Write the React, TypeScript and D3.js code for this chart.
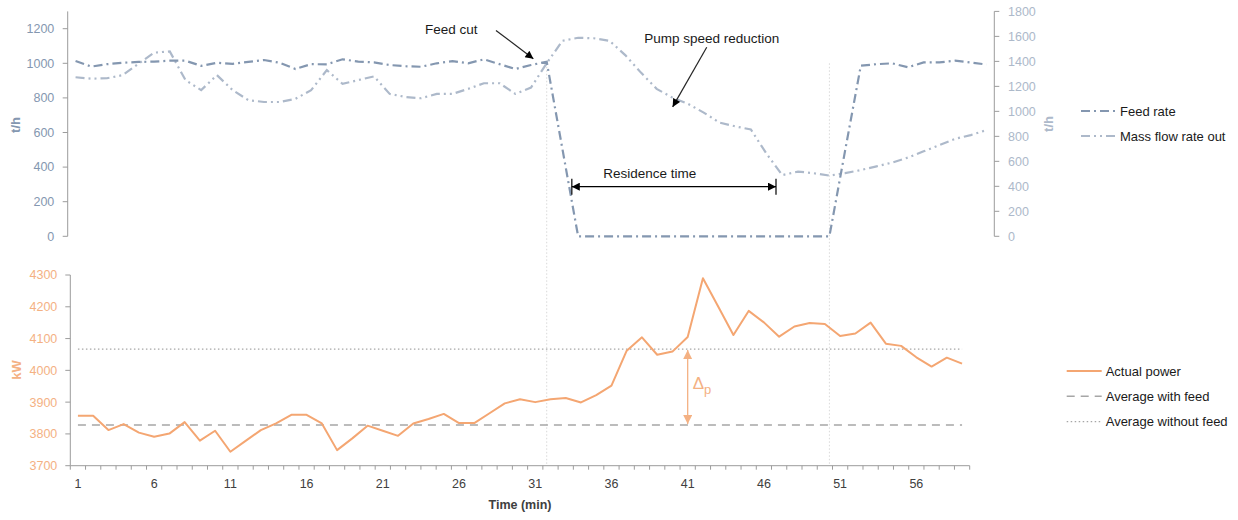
import React from 'react'
import * as d3 from 'd3'

// minutes on the shared time axis
const minutes = d3.range(1, 60)

// t/h, left axis of the upper panel
const feedRate = [
  1013, 981, 995, 1003, 1008, 1010, 1015, 1015, 985, 1003,
  997, 1008, 1019, 1003, 967, 995, 994, 1023, 1010, 1005,
  990, 983, 980, 1000, 1013, 1000, 1023, 995, 967, 990,
  1009, 505, 0, 0, 0, 0, 0, 0, 0, 0,
  0, 0, 0, 0, 0, 0, 0, 0, 0, 495,
  986, 995, 1000, 977, 1005, 1005, 1015, 1005, 993,
]

// t/h, right axis of the upper panel
const massFlowOut = [
  1273, 1262, 1265, 1290, 1380, 1470, 1480, 1250, 1170, 1290,
  1170, 1090, 1075, 1075, 1100, 1170, 1330, 1220, 1250, 1280,
  1140, 1115, 1105, 1140, 1140, 1180, 1225, 1225, 1140, 1190,
  1385, 1565, 1589, 1585, 1565, 1450, 1310, 1180, 1110, 1060,
  990, 910, 880, 855, 660, 490, 518, 505, 486, 505,
  530, 560, 590, 630, 680, 730, 780, 810, 850,
]

// kW, lower panel
const actualPower = [
  3857, 3857, 3812, 3831, 3804, 3791, 3801, 3837, 3779, 3810,
  3744, 3778, 3812, 3833, 3860, 3860, 3833, 3749, 3786, 3826,
  3810, 3794, 3833, 3847, 3863, 3834, 3834, 3865, 3896, 3909,
  3900, 3909, 3913, 3899, 3922, 3952, 4062, 4104, 4049, 4059,
  4105, 4290, 4201, 4111, 4187, 4151, 4106, 4138, 4149, 4146,
  4108, 4116, 4150, 4084, 4077, 4041, 4012, 4040, 4021,
]

const avgWithFeed = 3828
const avgWithoutFeed = 4067

const leftTicks = [0, 200, 400, 600, 800, 1000, 1200]
const rightTicks = [0, 200, 400, 600, 800, 1000, 1200, 1400, 1600, 1800]
const powerTicks = [3700, 3800, 3900, 4000, 4100, 4200, 4300]
const timeTicks = [1, 6, 11, 16, 21, 26, 31, 36, 41, 46, 51, 56]

// feed cut / feed back on
const feedEvents = [31, 49]
const residence = [32.6, 45.6]
const deltaAt = 41

const font = "'Liberation Sans', Arial, sans-serif"
const colors = {
  feed: '#8497B0',
  mass: '#ADB9CA',
  power: '#F4A672',
  powerText: '#F4B183',
  avg: '#A6A6A6',
  axis: '#9C9C9C',
  grid: '#D0D0D0',
  text: '#404040',
}
const feedDash = '9,4,2,4'
const massDash = '9,4,2,4,2,4'

export default function App() {
  // upper panel
  const xTop = d3.scaleBand<number>().domain(minutes).range([67.7, 994.3])
  const cxTop = (m: number) => (xTop(m) as number) + xTop.bandwidth() / 2
  const xTopLin = d3.scaleLinear().domain([1, 59]).range([cxTop(1), cxTop(59)])
  const yLeft = d3.scaleLinear().domain([0, 1300]).range([236.3, 11.4])
  const yRight = d3.scaleLinear().domain([0, 1800]).range([236.3, 11.4])

  // lower panel
  const xBot = d3.scaleBand<number>().domain(minutes).range([70.3, 969.7])
  const cxBot = (m: number) => (xBot(m) as number) + xBot.bandwidth() / 2
  const yPow = d3.scaleLinear().domain([3700, 4300]).range([465.7, 275])

  const feedLine = d3.line<number>().x((d, i) => cxTop(minutes[i])).y(d => yLeft(d))
  const massLine = d3.line<number>().x((d, i) => cxTop(minutes[i])).y(d => yRight(d))
  const powerLine = d3.line<number>().x((d, i) => cxBot(minutes[i])).y(d => yPow(d))

  const botY = yPow(3700)
  const topY0 = yLeft(0)
  const resY = yLeft(287)

  return (
    <svg width={1238} height={520} style={{ position: 'absolute', left: 0, top: 0, background: '#fff' }}
      fontFamily={font}>
      <defs>
        <marker id="headBlack" viewBox="0 0 10 10" refX="10" refY="5" markerWidth="9" markerHeight="8"
          orient="auto-start-reverse" markerUnits="userSpaceOnUse">
          <path d="M0,0 L10,5 L0,10 z" fill="#000" />
        </marker>
        <marker id="headOrange" viewBox="0 0 10 10" refX="10" refY="5" markerWidth="9" markerHeight="9"
          orient="auto-start-reverse" markerUnits="userSpaceOnUse">
          <path d="M0,0 L10,5 L0,10 z" fill={colors.powerText} />
        </marker>
      </defs>

      {/* event markers through both panels */}
      {feedEvents.map(m => (
        <line key={m} x1={cxTop(m)} x2={cxTop(m)} y1={yLeft(1000)} y2={botY}
          stroke="#D9D9D9" strokeWidth={1} strokeDasharray="1.5,2" />
      ))}

      {/* ===== upper panel axes ===== */}
      <line x1={67.7} x2={67.7} y1={11.4} y2={topY0} stroke={colors.axis} />
      {leftTicks.map(t => (
        <g key={t}>
          <line x1={62.7} x2={67.7} y1={yLeft(t)} y2={yLeft(t)} stroke={colors.axis} />
          <text x={54.3} y={yLeft(t)} dy="0.35em" textAnchor="end" fontSize={12.5} fill={colors.feed}>{t}</text>
        </g>
      ))}
      <line x1={994.3} x2={994.3} y1={11.4} y2={topY0} stroke={colors.axis} />
      {rightTicks.map(t => (
        <g key={t}>
          <line x1={994.3} x2={999.3} y1={yRight(t)} y2={yRight(t)} stroke={colors.axis} />
          <text x={1008} y={yRight(t)} dy="0.35em" fontSize={12.5} fill={colors.mass}>{t}</text>
        </g>
      ))}
      <text transform={`translate(20,125) rotate(-90)`} textAnchor="middle" fontSize={13} fontWeight="bold"
        fill={colors.feed}>t/h</text>
      <text transform={`translate(1053,124) rotate(-90)`} textAnchor="middle" fontSize={13} fontWeight="bold"
        fill={colors.mass}>t/h</text>

      <path d={massLine(massFlowOut) || ''} fill="none" stroke={colors.mass} strokeWidth={2.2}
        strokeDasharray={massDash} />
      <path d={feedLine(feedRate) || ''} fill="none" stroke={colors.feed} strokeWidth={2.2}
        strokeDasharray={feedDash} />

      {/* annotations */}
      <text x={xTopLin(23.25)} y={yLeft(1170)} fontSize={13.5} fill="#1a1a1a">Feed cut</text>
      <line x1={xTopLin(27.77)} y1={yLeft(1190)} x2={xTopLin(30.15)} y2={yLeft(1026)} stroke="#262626"
        strokeWidth={1.2} markerEnd="url(#headBlack)" />
      <text x={xTopLin(37.21)} y={yLeft(1116)} fontSize={13.5} fill="#1a1a1a">Pump speed reduction</text>
      <line x1={xTopLin(41.19)} y1={yLeft(1093)} x2={xTopLin(39.02)} y2={yLeft(748)} stroke="#262626"
        strokeWidth={1.2} markerEnd="url(#headBlack)" />
      <text x={xTopLin(34.6)} y={yLeft(339)} fontSize={13.5} fill="#1a1a1a">Residence time</text>
      <line x1={xTopLin(residence[0])} x2={xTopLin(residence[1])} y1={resY} y2={resY} stroke="#000"
        strokeWidth={1.2} markerStart="url(#headBlack)" markerEnd="url(#headBlack)" />
      {residence.map(r => (
        <line key={r} x1={xTopLin(r)} x2={xTopLin(r)} y1={resY - 8} y2={resY + 8} stroke="#000" strokeWidth={1.2} />
      ))}

      {/* upper legend */}
      {[{ name: 'Feed rate', c: colors.feed, dash: feedDash }, { name: 'Mass flow rate out', c: colors.mass, dash: massDash }]
        .map((s, i) => (
          <g key={s.name} transform={`translate(1081,${111 + i * 25})`}>
            <line x1={0} x2={35} y1={0} y2={0} stroke={s.c} strokeWidth={2.2} strokeDasharray={s.dash} />
            <text x={39} y={0} dy="0.35em" fontSize={13} fill="#1a1a1a">{s.name}</text>
          </g>
        ))}

      {/* ===== lower panel ===== */}
      <line x1={70.3} x2={70.3} y1={275} y2={botY} stroke={colors.axis} />
      {powerTicks.map(t => (
        <g key={t}>
          <line x1={65.3} x2={70.3} y1={yPow(t)} y2={yPow(t)} stroke={colors.axis} />
          <text x={57.3} y={yPow(t)} dy="0.35em" textAnchor="end" fontSize={12.5} fill={colors.powerText}>{t}</text>
        </g>
      ))}
      <line x1={70.3} x2={969.7} y1={botY} y2={botY} stroke={colors.axis} />
      {[...minutes.map(m => xBot(m) as number), 969.7].map((x, i) => (
        <line key={i} x1={x} x2={x} y1={botY} y2={botY + 4} stroke={colors.axis} />
      ))}
      {timeTicks.map(t => (
        <text key={t} x={cxBot(t)} y={botY + 22} textAnchor="middle" fontSize={12.5} fill={colors.text}>{t}</text>
      ))}
      <text x={520} y={508.5} textAnchor="middle" fontSize={12.5} fontWeight="bold" fill={colors.text}>Time (min)</text>
      <text transform={`translate(21,370) rotate(-90)`} textAnchor="middle" fontSize={13} fontWeight="bold"
        fill={colors.powerText}>kW</text>

      <line x1={cxBot(1)} x2={cxBot(59)} y1={yPow(avgWithoutFeed)} y2={yPow(avgWithoutFeed)} stroke={colors.avg}
        strokeWidth={1.2} strokeDasharray="1.5,2.5" />
      <line x1={cxBot(1)} x2={cxBot(59)} y1={yPow(avgWithFeed)} y2={yPow(avgWithFeed)} stroke={colors.avg}
        strokeWidth={1.6} strokeDasharray="8,6" />
      <path d={powerLine(actualPower) || ''} fill="none" stroke={colors.power} strokeWidth={2} strokeLinejoin="round" />

      {/* delta p */}
      <line x1={cxBot(deltaAt)} x2={cxBot(deltaAt)} y1={yPow(avgWithoutFeed) + 1} y2={yPow(avgWithFeed) - 1}
        stroke={colors.powerText} strokeWidth={1.3} markerStart="url(#headOrange)" markerEnd="url(#headOrange)" />
      <text x={cxBot(deltaAt) + 5} y={yPow((avgWithFeed + avgWithoutFeed) / 2) + 2} fontSize={17}
        fill={colors.powerText}>Δ<tspan fontSize={13} dy={5}>p</tspan></text>

      {/* lower legend */}
      {[
        { name: 'Actual power', c: colors.power, dash: undefined, w: 2 },
        { name: 'Average with feed', c: colors.avg, dash: '8,6', w: 1.6 },
        { name: 'Average without feed', c: colors.avg, dash: '1.5,2.5', w: 1.2 },
      ].map((s, i) => (
        <g key={s.name} transform={`translate(1066.7,${371 + i * 25.3})`}>
          <line x1={0} x2={35} y1={0} y2={0} stroke={s.c} strokeWidth={s.w} strokeDasharray={s.dash} />
          <text x={39} y={0} dy="0.35em" fontSize={13} fill="#1a1a1a">{s.name}</text>
        </g>
      ))}
    </svg>
  )
}
